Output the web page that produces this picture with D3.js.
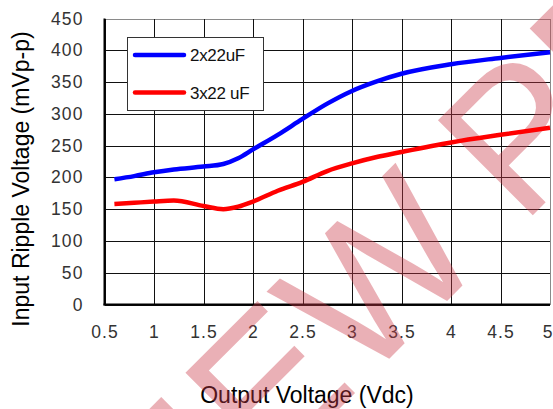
<!DOCTYPE html>
<html>
<head>
<meta charset="utf-8">
<script src="https://cdn.jsdelivr.net/npm/d3@7"></script>
<style>
  html, body { margin: 0; padding: 0; background: #fff; }
  svg { display: block; }
  text { font-family: "Liberation Sans", Arial, sans-serif; }
</style>
</head>
<body>
<svg id="chart" width="553" height="409"></svg>
<script>
// Output voltage (Vdc) sample points
const outputVoltage = [0.6, 0.8, 1.0, 1.2, 1.5, 1.7, 1.85, 2.0, 2.25, 2.5, 2.75, 3.0, 3.25, 3.5, 4.0, 4.5, 5.0];
// Input ripple (mVp-p) for each capacitor configuration
const ripple2x22 = [197, 202, 208, 212.5, 217, 221, 230, 244, 267, 292, 316, 336, 351, 363, 378, 388, 397];
const ripple3x22 = [158, 160, 162, 163.5, 155, 150, 154, 162, 179, 193, 210, 222, 232, 240, 255, 267, 278];

const seriesNames = ["2x22uF", "3x22 uF"];
const seriesColors = ["#0000ff", "#ff0000"];

const xTicks = [0.5, 1, 1.5, 2, 2.5, 3, 3.5, 4, 4.5, 5];
const xTickLabels = ["0.5", "1", "1.5", "2", "2.5", "3", "3.5", "4", "4.5", "5"];
const yTicks = [0, 50, 100, 150, 200, 250, 300, 350, 400, 450];

const xTitle = "Output Voltage (Vdc)";
const yTitle = "Input Ripple Voltage (mVp-p)";
const watermark = "PREVIEW";

const svg = d3.select("#chart");
const plotLeft = 104.5, plotRight = 550, plotTop = 18.5, plotBottom = 304.5;
const plotW = plotRight - plotLeft, plotH = plotBottom - plotTop;

const x = d3.scaleLinear().domain([0.5, 5]).range([plotLeft, plotRight]);
const y = d3.scaleLinear().domain([0, 450]).range([plotBottom, plotTop]);

// grid + tick labels on the y side
const gy = svg.append("g")
  .attr("transform", `translate(${plotLeft},0)`)
  .call(d3.axisLeft(y).tickValues(yTicks).tickSize(-plotW).tickPadding(21).tickFormat(d3.format("d")));
gy.select(".domain").remove();
gy.selectAll(".tick line").attr("stroke", d => d === 450 ? "#8a8a8a" : "#111").attr("stroke-width", 1)
  .attr("shape-rendering", "crispEdges");
gy.selectAll(".tick text").attr("fill", "#333").attr("font-size", 17.5).attr("letter-spacing", 1.1)
  .attr("font-family", "Liberation Sans, Arial, sans-serif");

// grid + tick labels on the x side
const gx = svg.append("g")
  .attr("transform", `translate(0,${plotBottom})`)
  .call(d3.axisBottom(x).tickValues(xTicks).tickSize(-plotH).tickPadding(21)
    .tickFormat((d, i) => xTickLabels[i]));
gx.select(".domain").remove();
gx.selectAll(".tick line").attr("stroke", d => d === 5 ? "#8a8a8a" : "#111").attr("stroke-width", 1)
  .attr("shape-rendering", "crispEdges");
gx.selectAll(".tick text").attr("fill", "#333").attr("font-size", 17.5).attr("letter-spacing", 1.1)
  .attr("font-family", "Liberation Sans, Arial, sans-serif");
// the last label sits at the page edge: keep it inside
gx.selectAll(".tick text").filter(d => d === 5).attr("text-anchor", "end").attr("x", 3);

// heavy left and bottom axis lines
svg.append("line").attr("x1", plotLeft).attr("x2", plotLeft).attr("y1", plotTop).attr("y2", plotBottom + 1)
  .attr("stroke", "#000").attr("stroke-width", 2);
svg.append("line").attr("x1", plotLeft - 1).attr("x2", plotRight).attr("y1", plotBottom).attr("y2", plotBottom)
  .attr("stroke", "#000").attr("stroke-width", 2);

// axis titles
svg.append("text").attr("x", 307).attr("y", 403).attr("text-anchor", "middle")
  .attr("font-size", 23).attr("fill", "#000").text(xTitle);
svg.append("text").attr("transform", "translate(29,179) rotate(-90)").attr("text-anchor", "middle")
  .attr("font-size", 23).attr("fill", "#000").text(yTitle);

// legend
const lg = svg.append("g");
lg.append("rect").attr("x", 127.5).attr("y", 37.5).attr("width", 136).attr("height", 73)
  .attr("fill", "#fff").attr("stroke", "#333").attr("stroke-width", 1);
seriesNames.forEach((name, i) => {
  const ly = 55 + i * 37.5;
  lg.append("line").attr("x1", 135).attr("x2", 184).attr("y1", ly).attr("y2", ly)
    .attr("stroke", seriesColors[i]).attr("stroke-width", 4.5).attr("stroke-linecap", "round");
  lg.append("text").attr("x", 190).attr("y", ly + 6).attr("font-size", 17).attr("fill", "#111")
    .attr("letter-spacing", -0.3).text(name);
});

// diagonal watermark
const wm = svg.append("g").attr("transform", "translate(491,257) rotate(-45)")
  .attr("fill", "rgb(203,58,73)").attr("fill-opacity", 0.4);
wm.append("text").attr("x", 0).attr("y", 0).attr("text-anchor", "end")
  .attr("font-size", 195).text(watermark);
wm.append("text").attr("x", 43).attr("y", 0).attr("text-anchor", "start")
  .attr("font-size", 195).text(watermark);

// curves
const line = d3.line().curve(d3.curveMonotoneX)
  .x((d, i) => x(outputVoltage[i])).y(d => y(d));
[ripple2x22, ripple3x22].forEach((vals, i) => {
  svg.append("path").datum(vals).attr("d", line).attr("fill", "none")
    .attr("stroke", seriesColors[i]).attr("stroke-width", 4.5).attr("stroke-linejoin", "round");
});
</script>
</body>
</html>
